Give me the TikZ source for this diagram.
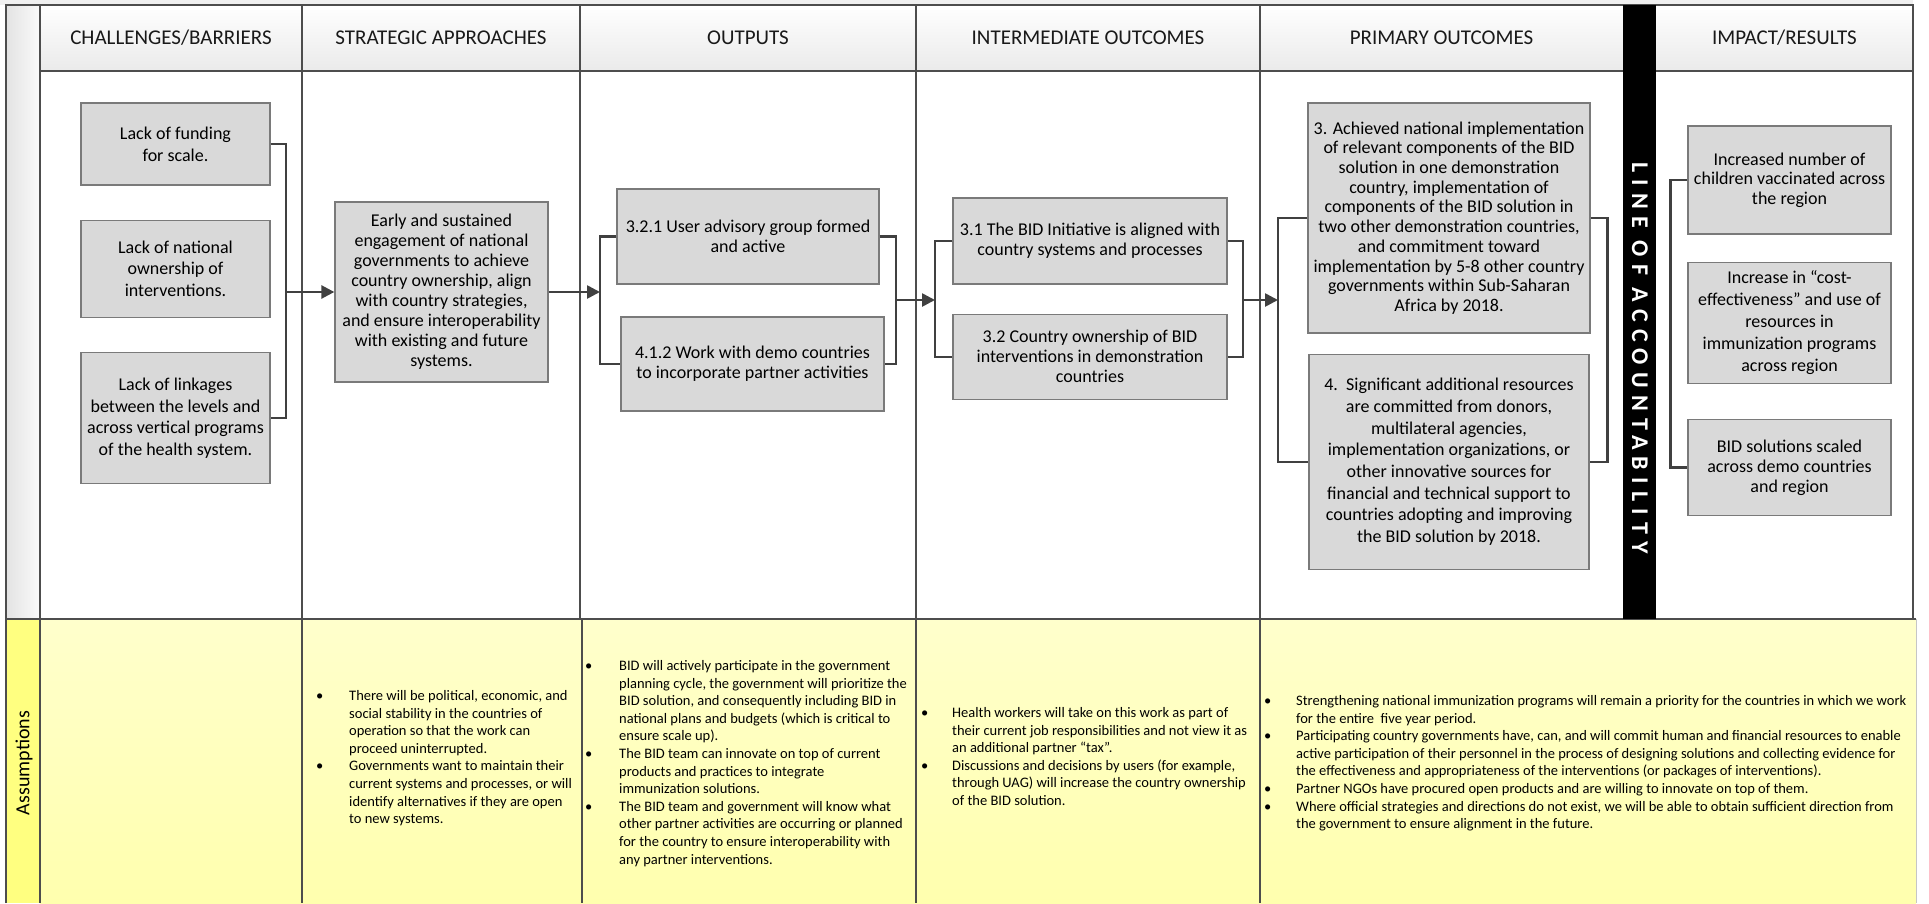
\documentclass[tikz,border=0pt]{standalone}
\usepackage{fontspec}
\setmainfont{Carlito}
\usepackage{tikz}
\usetikzlibrary{positioning,arrows.meta,calc}
\definecolor{boxfill}{HTML}{D9D9D9}
\definecolor{boxline}{HTML}{7A7A7A}
\definecolor{linkcol}{HTML}{404040}
\definecolor{gridcol}{HTML}{4D4D4D}
\definecolor{hdrbot}{HTML}{EAEAEA}
\definecolor{yeltop}{HTML}{FFFFCC}
\definecolor{yelbot}{HTML}{FFFFAE}
\definecolor{asmpcol}{HTML}{FFFF80}
\def\blt{\textbullet}

\begin{document}
\begin{tikzpicture}[x=1pt,y=-1pt,>={Triangle[length=13pt,width=13pt]},
    grid/.style={draw=gridcol,line width=1.3pt},
    link/.style={draw=linkcol,line width=2.6pt},
    hdr/.style={font=\fontsize{21}{25}\selectfont,text=black!90},
    box/.style={draw=boxline,fill=boxfill,line width=1.3pt,align=center,inner sep=2pt,font=\fontsize{18}{20}\selectfont},
    wide/.style={font=\fontsize{18}{21.7}\selectfont},
    note/.style={anchor=north west,inner sep=0pt,font=\fontsize{14.5}{17.6}\selectfont}]
%
\useasboundingbox (0,0) rectangle (1929,903);
\fill[gray!12] (0,0) rectangle (1913,5);
\shade[left color=gray!22,right color=gray!4] (6,5) rectangle (40,619);
\shade[top color=white,bottom color=hdrbot] (40,5) rectangle (1913,71);
\shade[top color=yeltop,bottom color=yelbot] (40,619) rectangle (1916,903);
\fill[asmpcol] (6,619) rectangle (40,903);
\draw[grid] (6,903) -- (6,5) -- (1913,5) -- (1913,619);
\draw[grid] (40,5) -- (40,903);
\draw[grid] (40,71) -- (1913,71);
\draw[grid] (6,619) -- (1916,619);
\foreach \cx in {302,580,916,1260} \draw[grid] (\cx,5) -- (\cx,619);
\foreach \cx in {302,582,916,1260} \draw[grid] (\cx,619) -- (\cx,903);
\draw[gray!45,line width=1pt] (1916,619) -- (1916,903);
\fill[black] (1623,5) rectangle (1656,619);
%
   \node[hdr]   (H1) at (171,38)    {CHALLENGES/BARRIERS};
   \node[hdr]   (H2) at (441,38)    {STRATEGIC APPROACHES};
   \node[hdr]   (H3) at (748,38)    {OUTPUTS};
   \node[hdr]   (H4) at (1088,38)   {INTERMEDIATE OUTCOMES};
   \node[hdr]   (H5) at (1441.5,38) {PRIMARY OUTCOMES};
   \node[hdr]   (H6) at (1784.5,38) {IMPACT/RESULTS};
   \node[rotate=90,font=\fontsize{20}{24}\selectfont] (AS) at (24,763) {Assumptions};
   \node[rotate=-90,text=white,font=\fontsize{24}{28}\selectfont\bfseries\addfontfeature{LetterSpace=30}] (LA) at (1640,358) {LINE OF ACCOUNTABILITY};
%
   \node[box,wide,minimum width=189pt,minimum height=82pt]  (C1) at (175.5,144) {Lack of funding\\for scale.};
   \node[box,wide,minimum width=189pt,minimum height=97pt]  (C2) [below=34pt of C1] {Lack of national\\ownership of\\interventions.};
   \node[box,wide,minimum width=189pt,minimum height=131pt] (C3) [below=34pt of C2] {Lack of linkages\\between the levels and\\across vertical programs\\of the health system.};
   \node[box,minimum width=213pt,minimum height=180pt] (S1) at (441.5,292) {Early and sustained\\engagement of national\\governments to achieve\\country ownership, align\\with country strategies,\\and ensure interoperability\\with existing and future\\systems.};
   \node[box,minimum width=262pt,minimum height=95pt]  (O1) at (748,236.5) {3.2.1 User advisory group formed\\and active};
   \node[box,minimum width=263pt,minimum height=94pt]  (O2) at (752.5,364) {4.1.2 Work with demo countries\\to incorporate partner activities};
   \node[box,minimum width=274pt,minimum height=86pt]  (I1) at (1090,241) {3.1 The BID Initiative is aligned with\\country systems and processes};
   \node[box,minimum width=274pt,minimum height=85pt]  (I2) [below=29pt of I1] {3.2 Country ownership of BID\\interventions in demonstration\\countries};
   \node[box,font=\fontsize{18}{19.7}\selectfont,minimum width=282pt,minimum height=230pt] (P1) at (1449,218) {3. Achieved national implementation\\of relevant components of the BID\\solution in one demonstration\\country, implementation of\\components of the BID solution in\\two other demonstration countries,\\and commitment toward\\implementation by 5-8 other country\\governments within Sub-Saharan\\Africa by 2018.};
   \node[box,wide,minimum width=280pt,minimum height=215pt] (P2) [below=20pt of P1] {4.\ \ Significant additional resources\\are committed from donors,\\multilateral agencies,\\implementation organizations, or\\other innovative sources for\\financial and technical support to\\countries adopting and improving\\the BID solution by 2018.};
   \node[box,font=\fontsize{18}{19.3}\selectfont,minimum width=203pt,minimum height=108pt] (R1) at (1789.5,180) {Increased number of\\children vaccinated across\\the region};
   \node[box,font=\fontsize{18}{22}\selectfont,minimum width=203pt,minimum height=121pt] (R2) [below=27pt of R1] {Increase in “cost-\\effectiveness” and use of\\resources in\\immunization programs\\across region};
   \node[box,minimum width=203pt,minimum height=96pt]  (R3) [below=35pt of R2] {BID solutions scaled\\across demo countries\\and region};
%
   \coordinate (J1) at (286,292);
   \coordinate (J2) at (600,292);
   \coordinate (J3) at (896,300);
   \coordinate (J4) at (935,300);
   \coordinate (J5) at (1243,300);
   \coordinate (J6) at (1278,300);
   \draw[link] (C1.east) -| (J1) |- (C3.east);
   \draw[link,->] (J1) -- (S1.west);
   \draw[link,->] (S1.east) -- (J2);
   \draw[link] (O1.west) -| (J2) |- (O2.west);
   \draw[link] (O1.east) -| (J3) |- (O2.east);
   \draw[link,->] (J3) -- (J4);
   \draw[link] (I1.west) -| (J4) |- (I2.west);
   \draw[link] (I1.east) -| (J5) |- (I2.east);
   \draw[link,->] (J5) -- (J6);
   \draw[link] (P1.west) -| (J6) |- (P2.west);
   \draw[link] (P1.east) -- ++(17,0) |- (P2.east);
   \draw[link] (R1.west) -- ++(-17,0) |- (R3.west);
%
   \node[note] (Y2) at (316,688) {\begin{tabular}{@{}p{33pt}@{}l@{}}
   \blt & There will be political, economic, and\\
        & social stability in the countries of\\
        & operation so that the work can\\
        & proceed uninterrupted.\\
   \blt & Governments want to maintain their\\
        & current systems and processes, or will\\
        & identify alternatives if they are open\\
        & to new systems.
   \end{tabular}};
   \node[note] (Y3) at (585,658) {\begin{tabular}{@{}p{34pt}@{}l@{}}
   \blt & BID will actively participate in the government\\
        & planning cycle, the government will prioritize the\\
        & BID solution, and consequently including BID in\\
        & national plans and budgets (which is critical to\\
        & ensure scale up).\\
   \blt & The BID team can innovate on top of current\\
        & products and practices to integrate\\
        & immunization solutions.\\
   \blt & The BID team and government will know what\\
        & other partner activities are occurring or planned\\
        & for the country to ensure interoperability with\\
        & any partner interventions.
   \end{tabular}};
   \node[note] (Y4) at (921,705) {\begin{tabular}{@{}p{31pt}@{}l@{}}
   \blt & Health workers will take on this work as part of\\
        & their current job responsibilities and not view it as\\
        & an additional partner “tax”.\\
   \blt & Discussions and decisions by users (for example,\\
        & through UAG) will increase the country ownership\\
        & of the BID solution.
   \end{tabular}};
   \node[note] (Y5) at (1264,693) {\begin{tabular}{@{}p{32pt}@{}l@{}}
   \blt & Strengthening national immunization programs will remain a priority for the countries in which we work\\
        & for the entire\ \ five year period.\\
   \blt & Participating country governments have, can, and will commit human and financial resources to enable\\
        & active participation of their personnel in the process of designing solutions and collecting evidence for\\
        & the effectiveness and appropriateness of the interventions (or packages of interventions).\\
   \blt & Partner NGOs have procured open products and are willing to innovate on top of them.\\
   \blt & Where official strategies and directions do not exist, we will be able to obtain sufficient direction from\\
        & the government to ensure alignment in the future.
   \end{tabular}};
\end{tikzpicture}
\end{document}
